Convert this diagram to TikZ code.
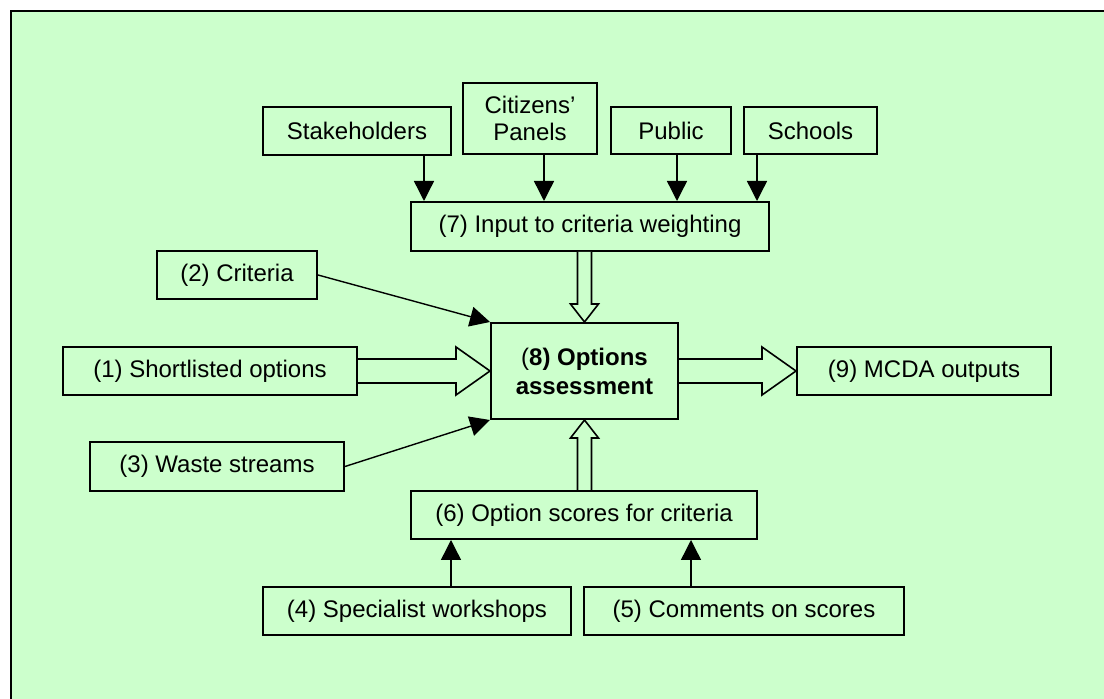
\documentclass[tikz,border=0pt]{standalone}
\usepackage{fontspec}
\setmainfont{Liberation Sans}
\usetikzlibrary{arrows.meta,calc}
\definecolor{panelgreen}{HTML}{CCFFCC}
\tikzset{
  box/.style={draw, line width=1pt, inner sep=0pt, align=center,
    font=\fontsize{12}{13.5}\selectfont},
  arr/.style={-{Triangle[length=10pt,width=10pt]}, line width=0.7pt},
  hollow/.style={draw, line width=0.8pt, fill=panelgreen, line join=miter},
}
% fat hollow arrows
\newcommand{\sideblock}[2]{%
  \draw[hollow] ($(#1.east)+(0,6pt)$) -- ($(#2.west)+(-17pt,6pt)$)
    -- ($(#2.west)+(-17pt,12pt)$) -- (#2.west) -- ($(#2.west)+(-17pt,-12pt)$)
    -- ($(#2.west)+(-17pt,-6pt)$) -- ($(#1.east)+(0,-6pt)$);}
\newcommand{\downblock}[2]{%
  \draw[hollow] ($(#2.north |- #1.south)+(-3.5pt,0)$) -- ($(#2.north)+(-3.5pt,9pt)$)
    -- ($(#2.north)+(-7pt,9pt)$) -- (#2.north) -- ($(#2.north)+(7pt,9pt)$)
    -- ($(#2.north)+(3.5pt,9pt)$) -- ($(#2.north |- #1.south)+(3.5pt,0)$);}
\newcommand{\upblock}[2]{%
  \draw[hollow] ($(#2.south |- #1.north)+(-3.5pt,0)$) -- ($(#2.south)+(-3.5pt,-9pt)$)
    -- ($(#2.south)+(-7pt,-9pt)$) -- (#2.south) -- ($(#2.south)+(7pt,-9pt)$)
    -- ($(#2.south)+(3.5pt,-9pt)$) -- ($(#2.south |- #1.north)+(3.5pt,0)$);}
\begin{document}
\begin{tikzpicture}[x=0.5pt,y=-0.5pt]
    \useasboundingbox (0,0) rectangle (1104,699);
    \clip (0,0) rectangle (1104,699);
    \draw[line width=1.2pt, fill=panelgreen] (11,11) rectangle (1130,730);

    % top row
    \node[box, minimum width=94pt, minimum height=24pt] (stake) at (357,131) {Stakeholders};
    \node[box, minimum width=67pt, minimum height=35.5pt] (citiz) at (530,118.5) {Citizens’\\Panels};
    \node[box, minimum width=60pt, minimum height=23.5pt] (public) at (671,130.5) {Public};
    \node[box, minimum width=66.5pt, minimum height=23.5pt] (school) at (810.5,130.5) {Schools};
    \node[box, minimum width=179pt, minimum height=24.5pt] (weight) at (590,226.5) {(7) Input to criteria weighting};

    % middle
    \node[box, minimum width=80pt, minimum height=24pt] (crit) at (237,275) {(2) Criteria};
    \node[box, minimum width=147pt, minimum height=24pt] (opts) at (210,371) {(1) Shortlisted options};
    \node[box, minimum width=93.5pt, minimum height=48pt,
      font=\fontsize{12}{14.5}\selectfont] (assess) at (584.5,371)
      {(\textbf{8) Options}\\\textbf{assessment}};
    \node[box, minimum width=127pt, minimum height=24pt] (mcda) at (924,371) {(9) MCDA outputs};
    \node[box, minimum width=127pt, minimum height=24.5pt] (waste) at (217,466.5) {(3) Waste streams};

    % bottom
    \node[box, minimum width=173pt, minimum height=24pt] (scores) at (584,515) {(6) Option scores for criteria};
    \node[box, minimum width=154pt, minimum height=24pt] (spec) at (417,611) {(4) Specialist workshops};
    \node[box, minimum width=160pt, minimum height=24pt] (comm) at (744,611) {(5) Comments on scores};

    % thin arrows
    \draw[arr] ([xshift=33.5pt]stake.south) -- ([xshift=33.5pt]stake.south |- weight.north);
    \draw[arr] ([xshift=7pt]citiz.south) -- ([xshift=7pt]citiz.south |- weight.north);
    \draw[arr] ([xshift=3pt]public.south) -- ([xshift=3pt]public.south |- weight.north);
    \draw[arr] ([xshift=-26.75pt]school.south) -- ([xshift=-26.75pt]school.south |- weight.north);
    \draw[arr] (crit.east) -- (assess.north west);
    \draw[arr] (waste.east) -- (assess.south west);
    \draw[arr] ([xshift=17pt]spec.north) -- ([xshift=17pt]spec.north |- scores.south);
    \draw[arr] ([xshift=-26.5pt]comm.north) -- ([xshift=-26.5pt]comm.north |- scores.south);

    % fat arrows
    \sideblock{opts}{assess}
    \sideblock{assess}{mcda}
    \downblock{weight}{assess}
    \upblock{scores}{assess}
\end{tikzpicture}
\end{document}
